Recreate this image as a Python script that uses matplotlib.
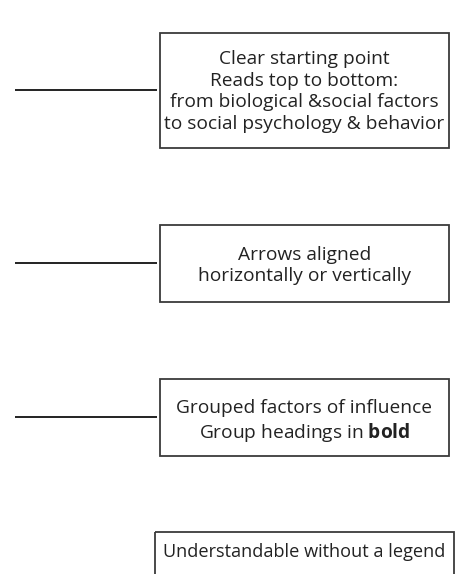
import matplotlib
matplotlib.use("Agg")
import matplotlib.pyplot as plt
from matplotlib.patches import Rectangle

plt.rcParams['font.family'] = ['Open Sans', 'DejaVu Sans']
plt.rcParams['mathtext.fontset'] = 'custom'
plt.rcParams['mathtext.rm'] = 'Open Sans'
plt.rcParams['mathtext.bf'] = 'Open Sans:bold'

# text of each note box, top to bottom
box_texts = [
    "Clear starting point\nReads top to bottom:\nfrom biological &social factors\nto social psychology & behavior",
    "Arrows aligned\nhorizontally or vertically",
    "Grouped factors of influence\nGroup headings in $\\mathbf{bold}$",
    "Understandable without a legend",
]
# whether a leader line points to the box
has_leader = [True, True, True, False]

# layout in pixels (x0, y0, x1, y1), text y shift and font size
box_pos = [(160, 33, 449, 148), (160, 225, 449, 302), (160, 379, 449, 456), (155, 532, 454, 600)]
text_shift = [1, 2, 4, 0]
text_size = [13.8, 13.8, 13.8, 13.1]

fig = plt.figure(figsize=(4.56, 5.74), dpi=100)
ax = fig.add_axes([0, 0, 1, 1])
ax.set_xlim(0, 456)
ax.set_ylim(574, 0)
ax.axis('off')

for i, text in enumerate(box_texts):
    x0, y0, x1, y1 = box_pos[i]
    ax.add_patch(Rectangle((x0, y0), x1 - x0, y1 - y0, fill=False,
                           edgecolor='#3a3a3a', linewidth=1.3))
    if has_leader[i]:
        ym = (y0 + y1) / 2 - 1
        ax.plot([15, 157], [ym, ym], color='#111111', linewidth=1.3,
                solid_capstyle='butt')
    if y1 > 574:
        ty = y0 + 20
    else:
        ty = (y0 + y1) / 2 + text_shift[i]
    ax.text((x0 + x1) / 2, ty, text, ha='center', va='center',
            fontsize=text_size[i], color='#222222', linespacing=1.28)

fig.savefig("out.png", dpi=100)
